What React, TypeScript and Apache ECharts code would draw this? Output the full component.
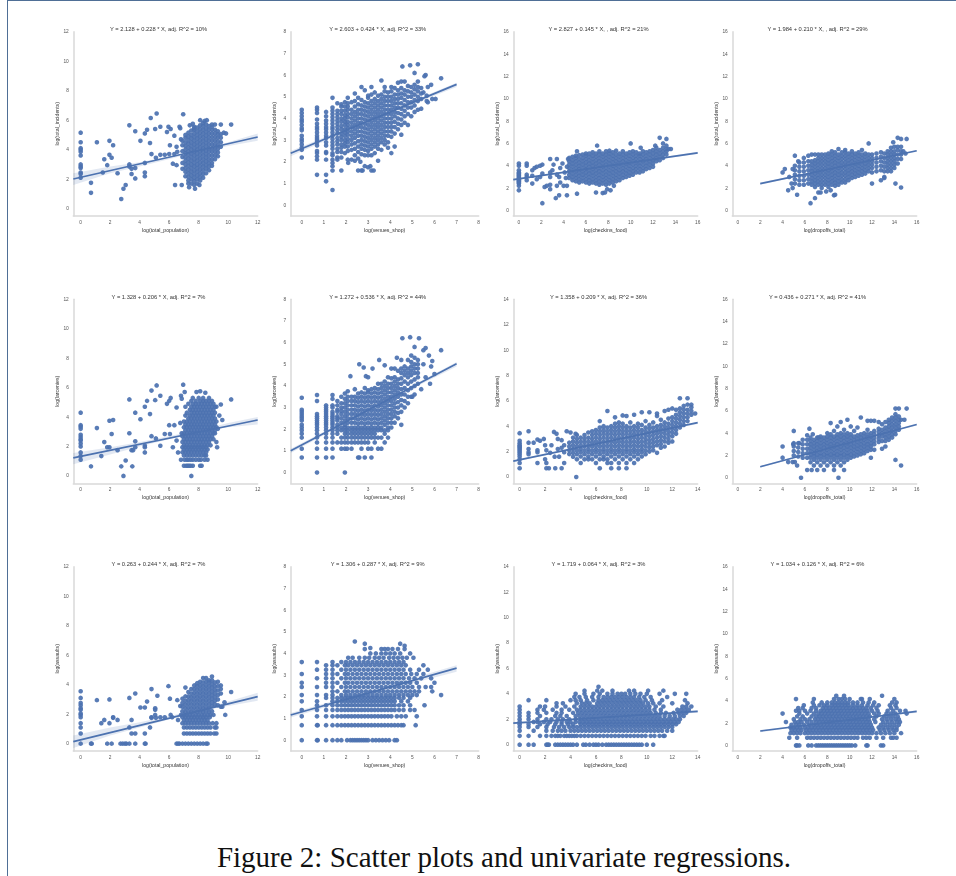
import React, { useEffect, useRef } from "react";
import * as echarts from "echarts";

type Group = [number, number[]];
type Pair = [number, number];

const titles = [
  "Y = 2.128 + 0.228 * X, adj. R^2 = 10%", "Y = 2.603 + 0.424 * X, adj. R^2 = 33%", "Y = 2.827 + 0.145 * X, , adj. R^2 = 21%", "Y = 1.984 + 0.210 * X, , adj. R^2 = 29%",
  "Y = 1.328 + 0.206 * X, adj. R^2 = 7%", "Y = 1.272 + 0.536 * X, adj. R^2 = 44%", "Y = 1.358 + 0.209 * X, adj. R^2 = 36%", "Y = 0.436 + 0.271 * X, adj. R^2 = 41%",
  "Y = 0.263 + 0.244 * X, adj. R^2 = 7%", "Y = 1.306 + 0.287 * X, adj. R^2 = 9%", "Y = 1.719 + 0.064 * X, adj. R^2 = 3%", "Y = 1.034 + 0.126 * X, adj. R^2 = 6%",
];
const xNames = ["log(total_population)", "log(venues_shop)", "log(checkins_food)", "log(dropoffs_total)"];
const yNames = ["log(total_incidents)", "log(larcenies)", "log(assaults)"];
const ticks8 = [0, 1, 2, 3, 4, 5, 6, 7, 8];
const ticks12 = [0, 2, 4, 6, 8, 10, 12];
const ticks14 = [0, 2, 4, 6, 8, 10, 12, 14];
const ticks16 = [0, 2, 4, 6, 8, 10, 12, 14, 16];
const xTickSets = [ticks12, ticks8, ticks16, ticks16, ticks12, ticks8, ticks14, ticks16, ticks12, ticks8, ticks14, ticks16];
const yTickSets = xTickSets;

const fitLines: Pair[][] = [
  [[-0.5, 2.01], [12, 4.86]], [[-0.5, 2.39], [7, 5.57]], [[-0.5, 2.755], [16, 5.15]], [[2, 2.4], [16, 5.34]],
  [[-0.5, 1.225], [12, 3.8]], [[-0.5, 1.0], [7, 5.02]], [[-0.5, 1.25], [14, 4.28]], [[2, 0.98], [16, 4.77]],
  [[-0.5, 0.14], [12, 3.19]], [[-0.5, 1.16], [7, 3.32]], [[-0.5, 1.69], [14, 2.62]], [[2, 1.29], [16, 3.05]],
];
const bands: number[][][] = [
  [[-0.5, 1.6, 2.4], [2, 2.4, 2.85], [4, 2.85, 3.15], [8, 3.85, 3.95], [10, 4.25, 4.5], [12, 4.6, 5.1]],
  [[-0.5, 2.25, 2.5], [3, 3.85, 3.95], [7, 5.45, 5.65]],
  [[-0.5, 2.68, 2.83], [8, 3.96, 4.02], [16, 5.05, 5.25]],
  [[2, 2.3, 2.5], [9, 3.85, 3.92], [16, 5.25, 5.42]],
  [[-0.5, 0.8, 1.55], [2, 1.45, 1.95], [4, 2.0, 2.3], [8, 3.0, 3.1], [10, 3.3, 3.6], [12, 3.5, 4.0]],
  [[-0.5, 0.9, 1.1], [3.5, 3.1, 3.2], [7, 4.9, 5.1]],
  [[-0.5, 1.18, 1.3], [8, 2.98, 3.04], [14, 4.18, 4.36]],
  [[2, 0.9, 1.06], [9, 2.86, 2.92], [16, 4.68, 4.86]],
  [[-0.5, -0.3, 0.55], [2, 0.55, 1.1], [4, 1.1, 1.45], [8, 2.2, 2.3], [10, 2.55, 2.85], [12, 2.9, 3.45]],
  [[-0.5, 1.05, 1.25], [3, 2.1, 2.25], [7, 3.15, 3.45]],
  [[-0.5, 1.6, 1.78], [8, 2.2, 2.26], [14, 2.5, 2.72]],
  [[2, 1.18, 1.38], [9, 2.14, 2.2], [16, 2.93, 3.15]],
];

const popIncSparse: Pair[] = [[0,5.15],[0,4.5],[0,4.1],[0,4],[0,3.85],[0,3.6],[0,3],[0,2.85],[0,2.75],[0,2.45],[0,2.35],[0,2.1],[0.7,1.07],[0.7,1.75],[1.1,4.5],[1.6,3.35],[1.8,2.95],[1.5,2.45],[1.95,4.6],[1.95,3.65],[2.1,3.45],[2.2,4.3],[2.5,2.4],[2.75,0.65],[2.9,1.35],[3.05,1.6],[3.3,5.65],[3.3,3],[3.3,2.85],[3.45,2.7],[3.45,2.35],[3.7,5.25],[3.7,2.75],[3.7,2.05],[4.05,4.6],[4.35,5.1],[4.5,5.35],[4.35,3.1],[4.35,2.45],[4.35,2.2],[4.75,6.15],[4.7,4.45],[4.8,3.7],[5.05,5.4],[5.15,6.45],[5.1,3.45],[5.4,5.55],[5.4,3.65],[5.7,3.65],[5.85,5.2],[5.95,5.55],[6.1,5.4],[6.05,4.3],[6,3.7],[6.25,3.05],[6.35,3.7],[6.5,2.95],[6.35,4.95],[6.5,4.2],[6.55,3.85],[6.7,5.55],[6.75,5.45],[6.95,6.4],[6.4,1.6],[6.85,1.6],[7.3,1.7],[7.35,1.45],[7.75,1.35],[8.05,1.6],[6.8,4.7],[7.4,5.65],[7.6,5.75],[7.7,5.45],[8.1,6],[8.4,5.95],[8.55,6],[8.9,5.7],[9.1,5.7],[9.5,5.7],[9.7,5.15],[10.2,5.7],[9.85,5.1],[8.9,2.9],[9.3,3.55]];
const popIncCols: Group[] = [
  [6.9,[2.7,3.1,3.5,3.9,4.3,4.6]],
  [7.1,[2.2,2.5,2.75,3,3.25,3.5,3.75,4,4.25,4.5,4.8,5]],
  [7.3,[1.9,2.15,2.4,2.65,2.9,3.15,3.4,3.65,3.9,4.15,4.4,4.65,4.9,5.15]],
  [7.5,[1.7,2,2.25,2.5,2.75,3,3.25,3.5,3.75,4,4.25,4.5,4.75,5,5.3]],
  [7.7,[1.6,1.85,2.1,2.35,2.6,2.85,3.1,3.35,3.6,3.85,4.1,4.35,4.6,4.85,5.1,5.35,5.55]],
  [7.9,[1.7,2,2.25,2.5,2.75,3,3.25,3.5,3.75,4,4.25,4.5,4.75,5,5.25,5.5]],
  [8.1,[1.9,2.15,2.4,2.65,2.9,3.15,3.4,3.65,3.9,4.15,4.4,4.65,4.9,5.15,5.4,5.65]],
  [8.3,[2.1,2.35,2.6,2.85,3.1,3.35,3.6,3.85,4.1,4.35,4.6,4.85,5.1,5.35,5.6,5.8]],
  [8.5,[2.4,2.7,2.95,3.2,3.45,3.7,3.95,4.2,4.45,4.7,4.95,5.2,5.45,5.7]],
  [8.7,[2.6,2.85,3.1,3.35,3.6,3.85,4.1,4.35,4.6,4.85,5.1,5.35,5.6]],
  [8.9,[3.1,3.35,3.6,3.85,4.1,4.35,4.6,4.85,5.1,5.35,5.55]],
  [9.1,[3.35,3.6,3.85,4.1,4.35,4.6,4.85,5.1,5.35]],
  [9.3,[3.8,4.05,4.3,4.55,4.8,5.05,5.25]],
  [9.5,[4.2,4.5,4.8,5.05]],
];

const venueIncCols: Group[] = [
  [0,[2.2,2.55,2.65,2.8,2.95,3.05,3.2,3.45,3.55,3.7,3.85,3.95,4.1,4.25,4.4]],
  [0.69,[1.4,2.1,2.25,2.4,2.5,2.75,2.9,3,3.1,3.2,3.35,3.5,3.6,3.75,3.95,4.25,4.4,4.5]],
  [1.1,[1.1,1.4,2.1,2.4,2.45,2.75,2.9,3.1,3.2,3.35,3.5,3.6,3.75,3.9,4.1,4.3]],
  [1.39,[0.7,1.6,1.8,1.95,2.1,2.3,2.4,2.6,2.75,2.9,3.05,3.2,3.35,3.5,3.6,3.75,3.9,4.05,4.2,4.35,4.5,4.95]],
  [1.61,[2.1,2.2,2.45,2.6,2.8,2.95,3.1,3.3,3.45,3.6,3.75,3.9,4.05,4.2,4.35,4.7]],
  [1.79,[1.6,2.2,2.45,2.65,2.8,3,3.15,3.3,3.5,3.65,3.85,4,4.2,4.35,4.55,4.65]],
  [1.95,[2.4,2.7,2.85,3,3.2,3.35,3.5,3.7,3.85,4,4.15,4.35,4.55,4.75]],
  [2.08,[2.1,2.5,2.7,2.9,3.05,3.25,3.4,3.55,3.7,3.85,4.05,4.2,4.4,4.55,4.7,4.95]],
  [2.25,[2.1,2.55,2.8,3,3.2,3.4,3.6,3.8,4,4.2,4.4,4.75]],
  [2.4,[2.3,2.6,2.85,3.1,3.3,3.5,3.7,3.9,4.1,4.3,4.55,4.8,5.15]],
  [2.55,[1.6,2.15,2.45,2.7,2.95,3.2,3.4,3.6,3.8,4,4.2,4.4,4.65,4.95]],
  [2.7,[1.6,2.35,2.6,2.8,3,3.2,3.4,3.6,3.8,4,4.2,4.4,4.6,4.85,5.45]],
  [2.85,[1.8,2.3,2.55,2.75,2.95,3.15,3.35,3.55,3.75,3.95,4.15,4.35,4.55,4.75,5.3]],
  [3.0,[1.75,2.3,2.5,2.7,2.9,3.1,3.3,3.5,3.7,3.9,4.1,4.3,4.5,4.7,4.95,5.05]],
  [3.15,[1.6,2.3,2.6,2.8,3,3.2,3.4,3.6,3.8,4,4.2,4.4,4.6,4.8,5.1,5.45]],
  [3.3,[2.4,2.7,2.9,3.1,3.3,3.5,3.7,3.9,4.1,4.3,4.5,4.7,4.9,5.2]],
  [3.45,[2.05,2.6,2.8,3,3.2,3.4,3.6,3.8,4,4.2,4.4,4.6,4.8,5.05]],
  [3.6,[2.55,2.9,3.1,3.3,3.5,3.7,3.9,4.1,4.3,4.5,4.7,4.9,5.1,5.75]],
  [3.75,[2.8,3,3.2,3.4,3.6,3.8,4,4.2,4.4,4.6,4.8,5,5.25,5.45]],
  [3.9,[2.65,2.9,3.2,3.4,3.6,3.8,4,4.2,4.4,4.6,4.8,5,5.2]],
  [4.05,[2.4,3.15,3.4,3.6,3.8,4,4.2,4.4,4.6,4.8,5,5.25,5.45]],
  [4.2,[2.7,3.3,3.6,3.85,4.1,4.3,4.5,4.7,4.9,5.1,5.4]],
  [4.35,[3.5,3.75,4,4.25,4.5,4.7,4.9,5.1,5.3,5.65]],
  [4.5,[3.25,3.7,3.95,4.2,4.45,4.7,4.95,5.15,5.4,5.7]],
  [4.65,[3.8,4.1,4.35,4.6,4.85,5.1,5.3,5.7]],
  [4.8,[3.7,4.2,4.5,4.75,5,5.25,5.5]],
  [4.95,[4.1,4.5,4.75,5,5.2,5.45]],
  [5.1,[4.3,4.6,4.85,5.1,5.35,5.55]],
  [5.25,[4.4,4.8,5,5.25,5.45,5.7]],
  [5.4,[4.45,4.9,5.15,5.4]],
];
const venueIncSparse: Pair[] = [[4.55,6.4],[4.9,6.45],[5.25,6.5],[5.1,6.1],[5.55,5.95],[5.6,6],[5.7,5.45],[5.65,5.05],[5.7,4.75],[5.9,4.9],[6.05,4.9],[5.85,5.55],[6.3,5.85],[5.5,5.2],[5.65,4.8],[2.1,1.95],[2.4,2.05],[2.75,1.6],[2.65,2],[3.1,1.8],[3.25,1.6]];

const foodIncCols: Group[] = [
  [0,[1.8,2.2,2.4,2.5,2.6,2.7,2.8,2.9,3,3.1,3.2,3.3,3.4,3.6,4,4.2]],
  [4.5,[2.9,3.2,3.5,3.8,4.1,4.4,4.7]],[4.8,[2.7,3,3.3,3.6,3.9,4.2,4.5,4.8]],[5.1,[2.6,2.9,3.2,3.5,3.8,4.1,4.4,4.7,4.9]],[5.4,[2.5,2.8,3.1,3.4,3.7,4,4.3,4.6,4.95]],
  [5.7,[2.6,2.9,3.2,3.5,3.8,4.1,4.4,4.7,5]],[6,[2.5,2.8,3.1,3.4,3.7,4,4.3,4.6,4.9,5.1]],[6.3,[2.4,2.7,3,3.3,3.6,3.9,4.2,4.5,4.8,5.1]],[6.6,[2.5,2.8,3.1,3.4,3.7,4,4.3,4.6,4.9,5.2]],
  [6.9,[2.4,2.7,3,3.3,3.6,3.9,4.2,4.5,4.8,5.1]],[7.2,[2.3,2.6,2.9,3.2,3.5,3.8,4.1,4.4,4.7,5,5.3]],[7.5,[2.4,2.7,3,3.3,3.6,3.9,4.2,4.5,4.8,5.1]],[7.8,[2.3,2.6,2.9,3.2,3.5,3.8,4.1,4.4,4.7,5,5.3]],
  [8.1,[2.4,2.7,3,3.3,3.6,3.9,4.2,4.5,4.8,5.1,5.35]],[8.4,[2.5,2.8,3.1,3.4,3.7,4,4.3,4.6,4.9,5.2]],[8.7,[2.6,2.9,3.2,3.5,3.8,4.1,4.4,4.7,5,5.35]],[9,[2.7,3,3.3,3.6,3.9,4.2,4.5,4.8,5.1]],
  [9.3,[2.9,3.2,3.5,3.8,4.1,4.4,4.7,5,5.3]],[9.6,[3,3.3,3.6,3.9,4.2,4.5,4.8,5.1]],[9.9,[3.1,3.4,3.7,4,4.3,4.6,4.9,5.2]],[10.2,[3.2,3.5,3.8,4.1,4.4,4.7,5,5.3]],
  [10.5,[3.4,3.7,4,4.3,4.6,4.9,5.2]],[10.8,[3.4,3.7,4,4.3,4.6,4.9,5.1]],[11.1,[3.5,3.8,4.1,4.4,4.7,5,5.3]],[11.4,[3.7,4,4.3,4.6,4.9,5.2]],
  [11.7,[3.8,4.1,4.4,4.7,5,5.3]],[12,[3.9,4.2,4.5,4.8,5.1,5.4]],[12.3,[4.4,4.7,5,5.3,5.6]],[12.6,[4.5,4.8,5.1,5.4,6.5]],[12.9,[4.7,5,5.3,5.6,6]],[13.2,[5,5.3,5.5,5.8,6.4]],
];
const foodIncSparse: Pair[] = [[0.7,2.7],[0.7,3],[0.7,3.2],[0.7,4],[0.7,4.2],[1.2,2.4],[1.2,3.1],[1.2,3.6],[1.4,3.8],[1.6,2.8],[1.6,3.9],[1.9,3],[1.9,4],[2.1,4.1],[2.1,3.3],[2.1,0.65],[2.3,2.1],[2.5,2.2],[2.8,1.9],[2.8,2.3],[2.8,3],[2.8,3.4],[2.8,4.6],[3,3.6],[3.1,4.1],[3.3,1.1],[3.4,2.2],[3.4,3.2],[3.4,4.6],[3.6,1.35],[3.6,3],[3.7,2.5],[3.7,3.8],[3.9,4.2],[4,2.2],[4.1,3.4],[4.2,2.9],[4.3,1.35],[4.3,2.2],[4.3,3.9],[4.4,4.6],[5.2,1.5],[5.2,5.3],[6.9,1.6],[7,5.8],[7.5,1.55],[7.7,1.6],[7.9,1.9],[8.2,1.8],[8.5,2.2],[10,6],[10.9,5.6],[12.2,5.8],[13.4,5.5],[13.6,5.5]];

const dropIncCols: Group[] = [
  [5.1,[2.4,2.8,3.2,3.6,4,4.9]],[5.5,[2.3,2.7,3.1,3.5,3.9,4.3]],[5.9,[2.3,2.7,3.1,3.5,3.9,4.3,4.7]],[6.3,[2.4,2.8,3.2,3.6,4,4.4,4.9]],
  [6.6,[2.3,2.6,2.9,3.2,3.5,3.8,4.1,4.4,5]],[6.9,[2.1,2.4,2.7,3,3.3,3.6,3.9,4.2,4.5,5]],[7.2,[1.6,2.3,2.6,2.9,3.2,3.5,3.8,4.1,4.4,4.7,5]],[7.5,[2,2.3,2.6,2.9,3.2,3.5,3.8,4.1,4.4,4.7,5]],
  [7.8,[2.3,2.6,2.9,3.2,3.5,3.8,4.1,4.4,4.7,5]],[8.1,[2.1,2.4,2.7,3,3.3,3.6,3.9,4.2,4.5,4.8,5.1]],[8.4,[2.3,2.6,2.9,3.2,3.5,3.8,4.1,4.4,4.7,5,5.3]],[8.7,[1.4,2.2,2.5,2.8,3.1,3.4,3.7,4,4.3,4.6,4.9,5.2]],
  [9,[2.3,2.6,2.9,3.2,3.5,3.8,4.1,4.4,4.7,5,5.5]],[9.3,[2.5,2.8,3.1,3.4,3.7,4,4.3,4.6,4.9,5.2]],[9.6,[2.5,2.8,3.1,3.4,3.7,4,4.3,4.6,4.9,5.2,5.4]],[9.9,[2.7,3,3.3,3.6,3.9,4.2,4.5,4.8,5.1]],
  [10.2,[2.9,3.2,3.5,3.8,4.1,4.4,4.7,5,5.3]],[10.5,[3,3.3,3.6,3.9,4.2,4.5,4.8,5.1]],[10.8,[3.1,3.4,3.7,4,4.3,4.6,4.9,5.2]],[11.1,[3.2,3.5,3.8,4.1,4.4,4.7,5,5.4]],[11.4,[3.3,3.6,3.9,4.2,4.5,4.8,5.1]],
  [11.7,[3.5,3.8,4.1,4.4,4.7,5,6]],[12,[3.4,3.8,4.1,4.4,4.7,5,2.4]],[12.4,[3.5,3.9,4.3,4.7,5.1]],[12.8,[2.7,3.6,4,4.4,4.8,5.2]],[13.1,[3,3.5,3.9,4.3,4.7,5.1]],
  [13.4,[3.5,3.8,4.1,4.4,4.7,5,5.3]],[13.7,[3.5,3.8,4.1,4.4,4.7,5,5.3,5.6]],[14,[3.8,4.1,4.4,4.7,5,5.3,5.7]],[14.3,[4.2,4.6,5,5.4,5.7,6.5]],[14.6,[4.6,5,5.3,5.7,6.4,2.05]],
];
const dropIncSparse: Pair[] = [[4,3.4],[4.2,3.7],[4.5,1.8],[4.8,2.4],[4.9,2],[4.6,3],[4.9,3.7],[5.3,1.4],[5.4,4.4],[6.5,0.65],[6.9,1.1],[7.4,1.6],[7.9,1.7],[8.6,1.35],[8.3,1.8],[14.1,2.4],[15.1,6.4],[15,5.1],[14.8,5.3],[13.9,6.1],[13.1,2.9]];

const popLarSparse: Pair[] = [[0,4.3],[0,3.45],[0,3.35],[0,3.2],[0,2.8],[0,2.65],[0,2.5],[0,2.4],[0,2.2],[0,2],[0,1.6],[0,1.35],[0,1.1],[0.7,0.65],[1.1,3.25],[1.4,1.35],[1.6,2.3],[1.8,1.95],[1.95,1.95],[1.95,3.75],[2.1,2.85],[2.2,3.8],[2.5,1.75],[2.75,0.65],[2.9,0],[3.05,1.05],[3.3,5.2],[3.3,2.9],[3.45,1.75],[3.5,0.65],[3.55,1.75],[3.7,4.3],[3.7,2.35],[3.7,1.95],[4.05,3.85],[4.35,4.7],[4.35,2.05],[4.35,1.95],[4.35,1.6],[4.5,5.1],[4.7,4.2],[4.8,5.8],[4.8,2.7],[5.05,5.15],[5.15,6.15],[5.1,2.55],[5.4,5.45],[5.4,2.05],[5.7,2.85],[5.85,4.9],[6,5.1],[6.1,5.3],[6,3.45],[6.05,2.85],[6.25,1.95],[6.35,3.45],[6.5,2.4],[6.5,4.65],[6.6,1.6],[6.75,3.6],[6.8,5.45],[6.85,5.25],[6.95,6.2],[7.5,0],[7.05,5.7],[7.6,5.3],[7.85,5.7],[8.1,5.75],[8.45,5.65],[9.2,4.7],[9.5,4.85],[9.4,4.1],[10.2,5.2],[9.6,3.8],[9.3,3.2],[9.2,2.3],[9.25,1.95]];
const popLarRows: Group[] = [
  [0.69,[7,7.15,7.25,7.35,7.45,7.6,8.1,8.2]],
  [1.1,[6.8,7.05,7.2,7.3,7.45,7.6,7.8,8,8.15,8.4,8.6]],
  [1.39,[7,7.2,7.4,7.6,7.8,8,8.2,8.4,8.5]],
  [1.61,[6.9,7.1,7.3,7.5,7.7,7.9,8.1,8.3,8.5]],
  [1.79,[7,7.2,7.4,7.6,7.8,8,8.2,8.4,8.6]],
  [1.95,[6.9,7.1,7.3,7.5,7.7,7.9,8.1,8.3,8.5]],
  [2.08,[7,7.2,7.4,7.6,7.8,8,8.2,8.4,8.6,8.8]],
  [2.3,[6.9,7.1,7.3,7.5,7.7,7.9,8.1,8.3,8.5,8.7]],
  [2.5,[7,7.2,7.4,7.6,7.8,8,8.2,8.4,8.6,8.8,9]],
  [2.7,[6.9,7.1,7.3,7.5,7.7,7.9,8.1,8.3,8.5,8.7,8.9]],
  [2.9,[6.85,7,7.2,7.4,7.6,7.8,8,8.2,8.4,8.6,8.8,9,9.1]],
  [3.1,[7.1,7.3,7.5,7.7,7.9,8.1,8.3,8.5,8.7,8.9,9.1]],
  [3.3,[7,7.2,7.4,7.6,7.8,8,8.2,8.4,8.6,8.8,9,9.2]],
  [3.5,[7.1,7.3,7.5,7.7,7.9,8.1,8.3,8.5,8.7,8.9,9.1]],
  [3.7,[7,7.2,7.4,7.6,7.8,8,8.2,8.4,8.6,8.8,9,9.2]],
  [3.9,[7.3,7.5,7.7,7.9,8.1,8.3,8.5,8.7,8.9,9.1]],
  [4.1,[7.1,7.4,7.6,7.8,8,8.2,8.4,8.6,8.8,9]],
  [4.3,[7.2,7.5,7.7,7.9,8.1,8.3,8.5,8.7,8.9,9.1]],
  [4.5,[7.4,7.6,7.8,8,8.2,8.4,8.6,8.8,9]],
  [4.7,[7.1,7.5,7.7,7.9,8.1,8.3,8.5,8.7,8.9,9.1]],
  [4.9,[7.3,7.6,7.8,8,8.2,8.4,8.6,8.8,9]],
  [5.1,[7.5,7.8,8.1,8.3,8.5,8.7,8.9]],
  [5.3,[8,8.3,8.7]],
];

const venueLarCols: Group[] = [
  [0,[0.69,1.1,1.61,1.79,1.95,2.08,2.2,2.4,2.5,2.6,2.7,2.8,2.9,3.45]],
  [0.69,[0,0.69,1.1,1.39,1.61,1.79,1.95,2.08,2.2,2.3,2.4,2.5,2.6,2.7,3.3,3.58]],
  [1.1,[0.69,1.1,1.39,1.61,1.79,1.95,2.08,2.2,2.3,2.4,2.5,2.6,2.7,2.8,2.9,3,3.1]],
  [1.39,[0.69,1.1,1.39,1.61,1.79,1.95,2.08,2.2,2.3,2.4,2.5,2.6,2.7,2.8,3,3.1,3.4,3.58]],
  [1.61,[1.39,1.79,1.95,2.08,2.2,2.4,2.5,2.6,2.8,2.9,3.1,3.3]],
  [1.79,[1.1,1.39,1.61,1.95,2.08,2.3,2.5,2.7,2.85,3,3.2,3.5]],
  [1.95,[0,1.1,1.39,1.61,1.79,1.95,2.08,2.2,2.4,2.6,2.8,3,3.2,3.4,3.65]],
  [2.08,[1.39,1.61,1.79,1.95,2.08,2.3,2.5,2.7,2.9,3.1,3.3,3.5,3.75]],
  [2.25,[1.1,1.39,1.61,1.79,1.95,2.08,2.3,2.5,2.7,2.9,3.1,3.3,3.5]],
  [2.4,[1.39,1.61,1.79,1.95,2.08,2.3,2.5,2.7,2.9,3.1,3.3,3.5,3.85]],
  [2.55,[0.69,1.39,1.61,1.79,1.95,2.08,2.25,2.45,2.65,2.85,3.05,3.25,3.45,3.65]],
  [2.7,[1.1,1.39,1.61,1.79,1.95,2.08,2.3,2.5,2.7,2.9,3.1,3.3,3.5,3.7]],
  [2.85,[0.69,1.39,1.61,1.79,1.95,2.08,2.25,2.45,2.65,2.85,3.05,3.25,3.45,3.65,3.9]],
  [3,[1.1,1.39,1.61,1.79,1.95,2.08,2.3,2.5,2.7,2.9,3.1,3.3,3.5,3.7,3.8]],
  [3.15,[0.69,1.1,1.61,1.79,1.95,2.08,2.25,2.45,2.65,2.85,3.05,3.25,3.45,3.65,3.85]],
  [3.3,[1.39,1.61,1.79,1.95,2.08,2.3,2.5,2.7,2.9,3.1,3.3,3.5,3.7,3.9]],
  [3.45,[1.1,1.61,1.95,2.08,2.25,2.45,2.65,2.85,3.05,3.25,3.45,3.65,3.85,4.1]],
  [3.6,[1.1,1.61,1.95,2.08,2.3,2.5,2.7,2.9,3.1,3.3,3.5,3.7,3.9,4.1]],
  [3.75,[1.39,1.79,1.95,2.2,2.4,2.6,2.8,3,3.2,3.4,3.6,3.8,4,4.2]],
  [3.9,[1.61,1.95,2.08,2.3,2.5,2.7,2.9,3.1,3.3,3.5,3.7,3.9,4.1,4.4]],
  [4.05,[2.08,2.3,2.5,2.7,2.9,3.1,3.3,3.5,3.7,3.9,4.1,4.35]],
  [4.2,[2.3,2.6,2.8,3,3.2,3.4,3.6,3.8,4,4.2,4.4,4.8]],
  [4.35,[2.5,2.75,3,3.25,3.5,3.7,3.9,4.1,4.3,4.7]],
  [4.5,[2.2,2.8,3.1,3.35,3.6,3.85,4.1,4.35,4.6,4.8,5.2]],
  [4.65,[3,3.3,3.6,3.9,4.2,4.5,4.7,4.9]],
  [4.8,[3.2,3.5,3.8,4.1,4.4,4.6,4.8,5.2]],
  [4.95,[3.5,3.9,4.2,4.5,4.7,4.9,5.1,5.4]],
  [5.1,[3.6,4,4.3,4.6,4.8,5,5.3]],
  [5.25,[4.1,4.4,4.6,4.8,5,5.2]],
];
const venueLarSparse: Pair[] = [[2.2,4.45],[2.6,5],[2.8,4.85],[2.9,4.45],[3,4.4],[3.2,4.8],[3.5,5.2],[3.75,4.95],[4.05,4.8],[4.3,5.3],[4.55,6.2],[4.9,6.25],[5.3,6.2],[5.1,5.8],[5.5,5.65],[5.6,5.75],[6.3,5.65],[5.75,5.4],[5.85,4.9],[5.9,5.15],[6,4.55],[5.8,4.1],[5.4,3.85],[5,3.5],[5.6,4.4],[5.5,5],[2.6,0.69],[2.05,1.1]];

const foodLarCols: Group[] = [
  [0,[0.69,1.1,1.39,1.61,1.79,1.95,2.08,2.2,2.3,2.4,2.5,2.65,2.85,3.45]],
  [3.9,[1.8,2.1,2.4,2.7]],[4.2,[1.6,1.9,2.2,2.5,2.8,3.1]],[4.5,[1.39,1.79,2.08,2.4,2.7,3,3.3]],[4.8,[1.1,1.61,1.95,2.2,2.5,2.8,3.1]],
  [5.1,[1.39,1.79,2.08,2.4,2.7,3,3.3]],[5.4,[1.39,1.61,1.95,2.2,2.5,2.8,3.1,3.5]],[5.7,[1.39,1.79,2.08,2.4,2.7,3,3.3,3.6]],[6,[1.1,1.61,1.95,2.2,2.5,2.8,3.1,3.4,3.7]],
  [6.3,[0.69,1.39,1.79,2.08,2.4,2.7,3,3.3,3.6,3.9,4.4]],[6.6,[1.39,1.61,1.95,2.2,2.5,2.8,3.1,3.4,3.7,4]],[6.9,[1.1,1.39,1.79,2.08,2.4,2.7,3,3.3,3.6,3.9,5.2]],[7.2,[0.69,1.1,1.61,1.95,2.2,2.5,2.8,3.1,3.4,3.7,4]],
  [7.5,[1.39,1.79,2.08,2.4,2.7,3,3.3,3.6,3.9,4.2,4.7]],[7.8,[0.69,1.1,1.61,1.95,2.2,2.5,2.8,3.1,3.4,3.7,4,4.3]],[8.1,[1.39,1.79,2.08,2.4,2.7,3,3.3,3.6,3.9,4.2,4.85]],[8.4,[0.69,1.1,1.61,1.95,2.2,2.5,2.8,3.1,3.4,3.7,4,4.8]],
  [8.7,[1.39,1.79,2.08,2.4,2.7,3,3.3,3.6,3.9,4.3]],[9,[1.1,1.61,1.95,2.2,2.5,2.8,3.1,3.4,3.7,4,4.9]],[9.3,[1.39,1.79,2.08,2.4,2.7,3,3.3,3.6,3.9,4.2]],[9.6,[1.61,1.95,2.2,2.5,2.8,3.1,3.4,3.7,4.1,5.1]],
  [9.9,[1.79,2.08,2.4,2.7,3,3.3,3.6,3.9,4.4]],[10.2,[2,2.3,2.6,2.9,3.2,3.5,3.8,4.1,5.1]],[10.5,[2.1,2.4,2.7,3,3.3,3.6,3.9,4.3]],[10.8,[1.9,2.5,2.8,3.1,3.4,3.7,4,4.8,5]],
  [11.1,[2.3,2.6,2.9,3.2,3.5,3.8,4.1,4.5]],[11.4,[2.4,2.8,3.1,3.4,3.7,4,4.3,5.2]],[11.7,[2.7,3,3.3,3.6,3.9,4.2,4.6,5.3]],[12,[2.8,3.2,3.5,3.8,4.1,4.4,4.7,5.4]],[12.3,[3.4,3.7,4,4.3,4.6,4.9,5.3]],
  [12.6,[3.9,4.2,4.5,4.8,5.1,5.4,6.2]],[12.9,[4.1,4.4,4.7,5,5.3,5.6]],[13.2,[4.4,4.7,5,5.3,5.7,6.2]],[13.5,[4.9,5.2,5.5,5.7]],
];
const foodLarSparse: Pair[] = [[0.7,3.6],[0.7,2.7],[0.7,2.2],[0.7,1.95],[0.7,1.79],[1.1,2.7],[1.4,2.95],[1.6,2.85],[1.4,1.1],[1.4,2.1],[1.4,1.95],[1.9,3],[2,1.39],[2,2.5],[2.1,0.69],[2.3,0.69],[2.1,1.1],[2.1,2.1],[2.4,1.9],[2.5,2.5],[2.8,0.69],[2.75,1.6],[2.7,3.55],[2.9,3.4],[3,3],[3,2.2],[3.1,1.6],[3.3,0.69],[3.3,2.9],[3.5,1.1],[3.5,1.95],[3.5,2.5],[3.7,3.6],[4,3.5],[4.45,0],[4.4,3.4],[3.3,2.3],[13.8,5]];

const dropLarCols: Group[] = [
  [5,[2,2.4,2.8,3.1]],[5.4,[1.9,2.3,2.7,3.1]],[5.8,[1.8,2.2,2.6,3,3.4]],[6.2,[0.69,1.79,2.2,2.6,3,3.4,3.8]],[6.5,[1.39,1.79,2.08,2.4,2.7,3,3.3,3.6]],
  [6.8,[1.1,1.61,1.95,2.2,2.5,2.8,3.1,3.4]],[7.1,[0.69,1.39,1.79,2.08,2.4,2.7,3,3.3,3.6]],[7.4,[1.1,1.61,1.95,2.2,2.5,2.8,3.1,3.4,3.7]],[7.7,[0.69,1.39,1.79,2.08,2.4,2.7,3,3.3,3.6]],
  [8,[1.1,1.61,1.95,2.2,2.5,2.8,3.1,3.4,3.7,4]],[8.3,[1.39,1.79,2.08,2.4,2.7,3,3.3,3.6,3.9,4.9]],[8.6,[0.69,1.1,1.61,1.95,2.2,2.5,2.8,3.1,3.4,3.7,4.2]],[8.9,[1.39,1.79,2.08,2.4,2.7,3,3.3,3.6,3.9,4.6]],
  [9.2,[1.1,1.61,1.95,2.2,2.5,2.8,3.1,3.4,3.7,4,5]],[9.5,[0.69,1.39,1.79,2.08,2.4,2.7,3,3.3,3.6,3.9,4.3]],[9.8,[1.61,1.95,2.2,2.5,2.8,3.1,3.4,3.7,4,5.2]],[10.1,[1.79,2.08,2.4,2.7,3,3.3,3.6,3.9,4.6]],
  [10.4,[1.9,2.2,2.5,2.8,3.1,3.4,3.7,4.2]],[10.7,[2,2.3,2.6,2.9,3.2,3.5,3.8,4.5]],[11,[2.1,2.4,2.7,3,3.3,3.6,3.9,5.4]],[11.3,[2.2,2.5,2.8,3.1,3.4,3.7,4]],[11.6,[2.4,2.7,3,3.3,3.6,3.9,4.3,5.1]],
  [11.9,[1.79,2.5,2.8,3.1,3.4,3.7,4,5.1]],[12.2,[2.5,3,3.3,3.6,3.9,4.2,5.1]],[12.6,[3.2,3.5,3.8,4.1,4.4,5]],[12.9,[2.6,3.3,3.7,4,4.3,4.8]],[13.2,[2.8,3.3,3.6,3.9,4.2,4.5,5]],
  [13.5,[3.4,3.7,4,4.3,4.6,4.9,5.2]],[13.8,[3.6,3.9,4.2,4.5,4.8,5.1,5.4]],[14.1,[3.9,4.2,4.5,4.8,5.1,5.4,5.7,6.2]],[14.4,[4.3,4.6,4.9,5.2,5.5,6.2]],
];
const dropLarSparse: Pair[] = [[4,2.8],[4,1.8],[4.5,1.4],[4.9,1.4],[4.95,3],[5,4.2],[5.1,1.4],[5.3,1.1],[5.5,3.1],[5.65,0],[6.4,4.4],[6.6,0.69],[6.7,3.9],[7.2,3.6],[9,0],[14.1,1.6],[14.6,1.1],[15.1,6.2],[14.9,5.2],[14.6,5.2]];

const popAsltRows: Group[] = [
  [0,[0,0.7,0.75,1.8,2.1,2.7,2.85,3,3.1,3.3,3.7,4.35,4.4,6.5,6.6,6.7,6.9,7.1,7.3,7.5,7.7,7.9,8.1,8.3,8.5,8.6]],
  [0.69,[0,3.45,3.7,4.35,7,7.2,7.4,7.6,7.8,8,8.2,8.4,8.6,8.8,9.05,9.2]],
  [1.1,[0,3.3,7,7.2,7.4,7.6,7.8,8,8.2,8.4,8.6,8.8,9.1,9.2]],
  [1.39,[0,1.4,1.95,6.9,7.1,7.3,7.5,7.7,7.9,8.1,8.3,8.5,8.7,8.95,9.2]],
  [1.61,[1.6,2.5,3.45,6.6,7,7.2,7.4,7.6,7.8,8,8.2,8.4,8.6]],
  [1.79,[0,2.2,4.8,5.4,5.7,6.2,6.9,7.1,7.3,7.5,7.7,7.9,8.1,8.3,8.5,8.75]],
  [1.95,[0,5.05,6.1,6.8,7,7.2,7.4,7.6,7.8,8,8.2,8.4,8.6,8.8,9]],
];
const popAsltCols: Group[] = [
  [0,[3.55,3.1,2.75,2.6,2.4,2.3,2.05]],
  [6.9,[2.2,2.5,2.75,3.05]],[7.1,[2.15,2.4,2.65,2.9,3.2,3.8]],[7.3,[2.2,2.45,2.7,2.95,3.2,3.5]],[7.5,[2.15,2.4,2.65,2.9,3.15,3.4,3.7]],
  [7.7,[2.2,2.45,2.7,2.95,3.2,3.45,3.7,3.95]],[7.9,[2.15,2.4,2.65,2.9,3.15,3.4,3.65,3.9,4.1]],[8.1,[2.2,2.45,2.7,2.95,3.2,3.45,3.7,3.95,4.2]],
  [8.3,[2.15,2.4,2.65,2.9,3.15,3.4,3.65,3.9,4.15,4.45]],[8.5,[2.2,2.45,2.7,2.95,3.2,3.45,3.7,3.95,4.2,4.45]],[8.7,[2.15,2.4,2.65,2.9,3.15,3.4,3.65,3.9,4.15,4.3]],
  [8.9,[2.2,2.55,2.8,3.05,3.3,3.55,3.8,4.05,4.3,4.55]],[9.1,[2.65,2.9,3.15,3.4,3.65,3.9,4.15]],[9.3,[2.6,3,3.3,3.6,3.9,4.2]],[9.5,[2.5,3.4,3.7,3.95]],
];
const popAsltSparse: Pair[] = [[1.1,2.95],[1.95,3],[2.2,1.75],[3.3,3.1],[3.7,3.4],[4.05,2.45],[4.35,2.45],[4.5,2.85],[4.8,3.7],[4.7,1.1],[4.8,1.75],[5.1,1.75],[5.05,2.4],[5.05,2.3],[5.2,3.25],[5.95,3.9],[6.05,3.05],[6.55,2.95],[6.75,2.55],[9.75,2.8],[9.8,1.95],[9.6,2.5],[10.2,3.5]];

const venueAsltRows: Group[] = [
  [0,[0,0.69,0.72,1.1,1.39,1.61,1.79,2.05,2.2,2.3,2.4,2.5,2.6,2.7,2.8,2.9,3,3.2,3.35,3.5,3.65,3.8,3.95,4.2,4.3]],
  [0.69,[0,0.69,0.72,1.1,1.39,1.61,1.79,1.95,2.1,2.25,2.4,2.55,2.7,2.85,3,3.15,3.3,3.45,3.6,3.75,3.9,4.05,4.2,4.35,4.5,4.6,5.15]],
  [1.1,[0,0.69,1.1,1.39,1.61,1.79,1.95,2.1,2.25,2.4,2.55,2.7,2.85,3,3.15,3.3,3.45,3.6,3.75,3.9,4.05,4.3,4.5,4.7,5.2]],
  [1.39,[0,0.69,1.1,1.39,1.61,1.79,1.95,2.1,2.25,2.4,2.55,2.7,2.85,3,3.15,3.3,3.45,3.6,3.75,3.9,4.05,4.2,4.4,4.6,4.9,5.1]],
  [1.61,[0.69,1.1,1.39,1.61,1.79,1.95,2.1,2.25,2.4,2.55,2.7,2.85,3,3.15,3.3,3.45,3.6,3.75,3.9,4.05,4.2,4.4,4.6,4.9,5.55]],
  [1.79,[0,0.69,1.39,1.61,1.79,1.95,2.1,2.25,2.4,2.55,2.7,2.85,3,3.15,3.3,3.45,3.6,3.75,3.9,4.05,4.2,4.5,4.8]],
  [1.95,[1.1,1.39,1.61,1.79,1.95,2.1,2.25,2.4,2.55,2.7,2.85,3,3.15,3.3,3.45,3.6,3.75,3.9,4.05,4.2,4.4,4.6,4.9]],
  [2.08,[0,0.69,1.1,1.39,1.79,2,2.2,2.4,2.6,2.8,3,3.2,3.4,3.6,3.8,4,4.2,4.4,4.6,4.8,5,5.2,6.3]],
  [2.25,[1.39,1.61,1.95,2.1,2.3,2.5,2.7,2.9,3.1,3.3,3.5,3.7,3.9,4.1,4.3,4.5,4.7,4.9,5.1,5.3,5.9]],
  [2.45,[0,0.69,1.1,1.39,1.79,2,2.2,2.4,2.6,2.8,3,3.2,3.4,3.6,3.8,4,4.2,4.4,4.6,4.8,5,5.3,5.6,5.85]],
  [2.65,[0,1.1,1.39,1.61,1.95,2.1,2.3,2.5,2.7,2.9,3.1,3.3,3.5,3.7,3.9,4.1,4.3,4.5,4.7,4.9,5.2,6]],
  [2.85,[0.69,1.1,1.39,1.79,2,2.2,2.4,2.6,2.8,3,3.2,3.4,3.6,3.8,4,4.2,4.4,4.6,4.85,5.1,5.4,5.85]],
  [3.05,[0,1.1,1.39,1.61,1.95,2.1,2.3,2.5,2.7,2.9,3.1,3.3,3.5,3.7,3.9,4.1,4.3,4.5,4.7,4.95,5.2,5.5]],
  [3.25,[0.69,1.1,1.39,1.79,2,2.2,2.4,2.6,2.8,3,3.2,3.4,3.6,3.8,4,4.2,4.4,4.6,4.9,5.3,5.7]],
  [3.45,[1.1,1.39,1.61,1.95,2.1,2.3,2.5,2.7,2.9,3.1,3.3,3.5,3.7,3.9,4.1,4.3,4.5,4.7,5.5]],
  [3.6,[0,0.69,1.39,1.79,2,2.2,2.4,2.6,2.8,3,3.2,3.4,3.6,3.8,4,4.2,4.4,4.6]],
  [3.8,[2.1,2.3,2.6,2.85,3.05,3.3,3.5,3.7,3.95,4.15,4.35,4.55,4.75,5.05]],
  [4.0,[3.1,3.35,3.6,3.8,4,4.2,4.45,4.9]],
  [4.2,[2.85,3.6,3.75,3.9,4.1,4.35,4.65]],
];
const venueAsltSparse: Pair[] = [[2.4,4.55],[2.85,4.45],[3.1,4.25],[4.45,4.45],[4.65,4.35]];

const foodAsltRows: Group[] = [
  [0,[0,0.7,1.1,2.1,2.2,2.3,2.8,3,3.2,3.4,3.6,3.8,4,4.2,4.5,5,5.2,5.5,5.8,6,6.2,6.5,6.8,7,7.2,7.4,7.6,7.8,8,8.2,8.4,8.6,8.8,9,9.2,9.4,9.6,10,10.5]],
  [0.69,[0,0.7,1.6,2.1,2.5,2.8,3,3.2,3.5,3.7,3.9,4.1,4.3,4.5,4.8,5.1,5.4,5.7,6,6.3,6.6,6.9,7.2,7.5,7.8,8.1,8.4,8.7,9,9.3,9.6,9.9,10.3,10.6,11,11.3,11.4]],
  [1.1,[0,1.1,2.1,2.6,3,3.3,3.6,4,4.3,4.6,4.9,5.2,5.5,5.8,6.1,6.4,6.7,7,7.3,7.6,7.9,8.2,8.5,8.8,9.1,9.4,9.7,10,10.3,10.6,10.9,11.2,11.6,12]],
  [1.39,[0,0.7,1.4,2.1,2.7,3.1,3.5,3.9,4.2,4.5,4.8,5.1,5.4,5.7,6,6.3,6.6,6.9,7.2,7.5,7.8,8.1,8.4,8.7,9,9.3,9.6,9.9,10.2,10.5,10.8,11.1,11.4,11.7,12]],
  [1.61,[0,0.7,1.6,2.2,2.8,3.3,3.8,4.2,4.8,5.1,5.4,5.7,6,6.3,6.6,6.9,7.2,7.5,7.8,8.1,8.4,8.7,9,9.3,9.6,9.9,10.2,10.5,10.8,11.1,11.4,11.7,12,12.3]],
  [1.79,[0,1.1,1.4,1.9,2.4,2.9,3.3,3.7,4,4.4,4.7,5,5.3,5.6,5.9,6.2,6.5,6.8,7.1,7.4,7.7,8,8.3,8.6,8.9,9.2,9.5,9.8,10.1,10.4,10.7,11,11.3,11.6,11.9,12.2,12.5]],
  [2.0,[0,0.7,1.4,2.1,2.5,3,3.4,3.9,4.4,4.8,5.1,5.4,5.7,6,6.3,6.6,6.9,7.2,7.5,7.8,8.1,8.4,8.7,9,9.3,9.6,9.9,10.2,10.5,10.8,11.1,11.4,11.7,12,12.3,12.6]],
  [2.25,[0,0.7,1.6,2.8,3.2,3.7,4.4,4.7,5,5.3,5.6,5.9,6.2,6.5,6.8,7.1,7.4,7.7,8,8.3,8.6,8.9,9.2,9.5,9.8,10.1,10.4,10.7,11,11.4,11.8,12.2,12.6,12.9]],
  [2.5,[0,0.7,1.4,2.1,2.9,3.3,4.2,4.6,4.9,5.2,5.5,5.8,6.1,6.4,6.7,7,7.3,7.6,7.9,8.2,8.5,8.8,9.1,9.4,9.7,10,10.3,10.7,11.1,11.5,12.1,12.5,12.8,13.1]],
  [2.75,[0,1.4,1.9,2.6,3.3,3.9,4.5,4.8,5.1,5.4,5.7,6,6.3,6.6,6.9,7.2,7.5,7.8,8.1,8.4,8.7,9,9.3,9.6,9.9,10.2,10.6,11.1,12.4,12.7,13,13.3]],
  [3.0,[0,1.6,2,2.9,3.6,4.3,4.8,5.1,5.4,5.7,6,6.3,6.6,6.9,7.2,7.5,7.8,8.1,8.4,8.7,9,9.3,9.6,9.9,10.2,10.7,11.3,12.8,13.1,13.5]],
  [3.25,[2.9,3.4,4.5,4.9,5.2,5.5,6.1,6.4,6.7,7,7.3,7.6,7.9,8.2,8.5,8.8,9.1,9.4,9.7,10.1,10.5,11,12,13.2]],
  [3.5,[0.7,2.1,4,4.4,4.8,5.3,5.8,6.2,6.5,6.8,7.1,7.4,7.7,8,8.3,8.6,8.9,9.2,9.5,9.9,10.4,11.2,13]],
  [3.75,[4.3,4.7,5.2,5.7,6.2,6.6,6.9,7.2,7.5,7.8,8.1,8.4,8.7,9,9.4,9.8,10.3,11.6]],
  [4,[4.4,5.1,5.8,6.3,6.9,7.3,7.7,8,8.3,8.7,9.1,9.5,10,11,12.2,13.1]],
  [4.25,[5.1,6.1,6.5,7.3,8.6,9,10.1,11.3]],
  [4.55,[6.2]],
];

const dropAsltRows: Group[] = [
  [0,[5.2,5.3,5.5,6.3,6.6,7,7.2,7.4,7.6,7.8,8,8.2,8.4,8.6,8.8,9,9.2,9.4,9.6,9.8,10,10.2,10.5,11.5,11.6,12.8,13]],
  [0.69,[4.6,5.3,6.2,6.5,6.8,7.1,7.4,7.7,8,8.3,8.6,8.9,9.2,9.5,9.8,10.1,10.4,10.7,11.2,11.5,11.8,12.4,13,13.7,13.9,14.2]],
  [1.1,[4.7,5,5.3,5.6,6,6.3,6.6,6.9,7.2,7.5,7.8,8.1,8.4,8.7,9,9.3,9.6,9.9,10.2,10.5,10.8,11.1,11.4,11.7,12,12.4,12.8,13.2,13.6,14,14.6]],
  [1.39,[4.8,5.1,5.4,5.7,6.1,6.4,6.7,7,7.3,7.6,7.9,8.2,8.5,8.8,9.1,9.4,9.7,10,10.3,10.6,10.9,11.2,11.5,11.8,12.1,12.7,13.1,13.5,13.9,14.2]],
  [1.61,[4.7,5,5.3,5.6,6,6.3,6.6,6.9,7.2,7.5,7.8,8.1,8.4,8.7,9,9.3,9.6,9.9,10.2,10.5,10.8,11.1,11.4,11.7,12,12.6,13,13.4,13.8,14.2]],
  [1.85,[4.8,5.2,5.5,5.9,6.4,6.8,7.1,7.4,7.7,8,8.3,8.6,8.9,9.2,9.5,9.8,10.1,10.4,10.7,11,11.3,11.6,11.9,12.8,13.2,13.6,14,14.4]],
  [2.1,[4.3,5.1,5.4,5.7,6.2,6.6,7,7.3,7.6,7.9,8.2,8.5,8.8,9.1,9.4,9.7,10,10.3,10.6,10.9,11.2,11.5,11.8,12.3,13,13.4,13.8,14.2,14.5]],
  [2.35,[5,5.6,6,6.4,6.9,7.2,7.5,7.8,8.1,8.4,8.7,9,9.3,9.6,9.9,10.2,10.5,10.8,11.1,11.4,11.7,12.2,12.9,13.3,13.7,14.1,14.4]],
  [2.6,[5.3,5.8,6.6,7,7.3,7.6,7.9,8.2,8.5,8.8,9.1,9.4,9.7,10,10.3,10.6,10.9,11.2,11.5,11.8,12.4,13.1,13.5,13.9,14.3]],
  [2.85,[4,5.5,6.2,6.8,7.2,7.5,7.8,8.1,8.4,8.7,9,9.3,9.6,9.9,10.2,10.5,10.8,11.1,11.4,11.7,12.2,12.6,13.3,13.7,14.1,15.1]],
  [3.1,[5.2,5.5,6,6.5,7,7.4,7.7,8,8.3,8.6,8.9,9.2,9.5,9.8,10.1,10.4,10.7,11,11.3,11.6,12,12.5,13.4,13.9,14.5,15]],
  [3.35,[5.4,5.8,6.6,7,7.6,7.9,8.2,8.5,8.8,9.1,9.4,9.7,10,10.3,10.6,10.9,11.2,11.5,11.9,12.4,13.7,14.2]],
  [3.6,[5.9,6.8,7.3,7.7,8,8.4,8.7,9,9.3,9.6,9.9,10.3,10.7,11.1,11.6,12.1,12.6,13.6,14.1]],
  [3.85,[6.7,7.5,8,8.4,8.7,9,9.3,9.6,9.9,10.3,10.7,11.2,11.7,12.2,13.8,14.2]],
  [4.15,[5.2,6.8,8.6,9,9.3,9.6,10,11,11.1,11.8,14]],
  [4.45,[8.8,9.5,12.9]],
];

const cols = (list: Group[]): Pair[] => list.flatMap(([x, ys]) => ys.map((y): Pair => [x, y]));
const rows = (list: Group[]): Pair[] => list.flatMap(([y, xs]) => xs.map((x): Pair => [x, y]));

const panelPoints: Pair[][] = [
  [...popIncSparse, ...cols(popIncCols)],
  [...cols(venueIncCols), ...venueIncSparse],
  [...cols(foodIncCols), ...foodIncSparse],
  [...cols(dropIncCols), ...dropIncSparse],
  [...popLarSparse, ...rows(popLarRows)],
  [...cols(venueLarCols), ...venueLarSparse],
  [...cols(foodLarCols), ...foodLarSparse],
  [...cols(dropLarCols), ...dropLarSparse],
  [...rows(popAsltRows), ...cols(popAsltCols), ...popAsltSparse],
  [...rows(venueAsltRows), ...venueAsltSparse],
  rows(foodAsltRows),
  rows(dropAsltRows),
];

const gridLefts = [73.3, 290.7, 513.3, 732.3];
const gridRights = [257.7, 478.7, 697.7, 916.7];
const gridTops = [31.7, 299.3, 566.7];
const gridBottoms = [216, 483.3, 751];
const titleShift = 7;
const titleRise = 2.7;
const BLUE = "#4C72B0";
const SANS = "'Liberation Sans', Arial, sans-serif";

function buildOption() {
  const grid: any[] = [], xAxis: any[] = [], yAxis: any[] = [], title: any[] = [], series: any[] = [];
  titles.forEach((text, i) => {
    const c = i % 4, r = Math.floor(i / 4);
    const left = gridLefts[c], right = gridRights[c], top = gridTops[r], bottom = gridBottoms[r];
    grid.push({ left, top, width: right - left, height: bottom - top });
    title.push({
      text, left: (left + right) / 2 - titleShift, top: top - titleRise, padding: 0,
      textAlign: "center", textVerticalAlign: "middle",
      textStyle: { fontSize: 5.75, fontWeight: "normal", color: "#333", fontFamily: SANS },
    });
    const axisBase = {
      type: "value", gridIndex: i, nameLocation: "middle",
      axisLine: { show: true, onZero: false, lineStyle: { color: "#d9d9d9", width: 1.5 } },
      axisTick: { show: false }, splitLine: { show: false },
      nameTextStyle: { fontSize: 5.2, color: "#333", fontFamily: SANS },
    };
    const xt = xTickSets[i], yt = yTickSets[i];
    xAxis.push({
      ...axisBase, min: -0.5, max: xt[xt.length - 1], name: xNames[c], nameGap: 11,
      axisLabel: { customValues: xt, fontSize: 4.8, color: "#555", margin: 3.5, fontFamily: SANS, hideOverlap: false },
    });
    yAxis.push({
      ...axisBase, min: -0.5, max: yt[yt.length - 1], name: yNames[r], nameGap: 14,
      axisLabel: { customValues: yt, fontSize: 4.8, color: "#555", margin: 4.5, fontFamily: SANS, hideOverlap: false },
    });
    series.push({
      type: "scatter", xAxisIndex: i, yAxisIndex: i, data: panelPoints[i], symbolSize: 4.6,
      itemStyle: { color: BLUE, opacity: 0.93 }, silent: true, z: 2,
    });
    const band = bands[i];
    series.push({
      type: "custom", xAxisIndex: i, yAxisIndex: i, data: band, silent: true, z: 3, clip: true,
      encode: { x: 0, y: 1 },
      renderItem: (params: any, api: any) => {
        if (params.dataIndex !== 0) return { type: "group", children: [] };
        const upper = band.map((d) => api.coord([d[0], d[2]]));
        const lower = band.map((d) => api.coord([d[0], d[1]])).reverse();
        return { type: "polygon", shape: { points: [...upper, ...lower] }, style: { fill: "rgba(76,114,176,0.16)" } };
      },
    });
    series.push({
      type: "line", xAxisIndex: i, yAxisIndex: i, data: fitLines[i], showSymbol: false, silent: true, z: 4,
      lineStyle: { color: BLUE, width: 1.7 },
    });
  });
  return { animation: false, backgroundColor: "transparent", tooltip: { show: false }, grid, xAxis, yAxis, title, series };
}

const captionText = "Figure 2: Scatter plots and univariate regressions.";

export default function App() {
  const backRef = useRef<HTMLDivElement>(null);
  const chartRef = useRef<HTMLDivElement>(null);
  useEffect(() => {
    const back = echarts.init(backRef.current!, undefined, { renderer: "svg" });
    back.setOption({
      animation: false,
      backgroundColor: "#fff",
      graphic: [
        { type: "line", shape: { x1: 7.5, y1: 0, x2: 7.5, y2: 876 }, style: { stroke: "#4f6f96", lineWidth: 1 } },
        { type: "line", shape: { x1: 7.5, y1: 0.5, x2: 956, y2: 0.5 }, style: { stroke: "#4f6f96", lineWidth: 1 } },
        { type: "text", x: 504, y: 857, style: { text: captionText, fill: "#111", font: "29px 'Liberation Serif', serif", textAlign: "center", textVerticalAlign: "middle" } },
      ],
    });
    const chart = echarts.init(chartRef.current!, undefined, { renderer: "svg" });
    chart.setOption(buildOption());
    return () => { chart.dispose(); back.dispose(); };
  }, []);
  const layer: React.CSSProperties = { position: "absolute", left: 0, top: 0, width: 956, height: 876 };
  return (
    <div style={{ position: "absolute", left: 0, top: 0, width: 956, height: 876, overflow: "hidden", background: "#fff" }}>
      <div ref={backRef} style={layer} />
      <div ref={chartRef} style={{ ...layer, filter: "blur(0.5px)" }} />
    </div>
  );
}
